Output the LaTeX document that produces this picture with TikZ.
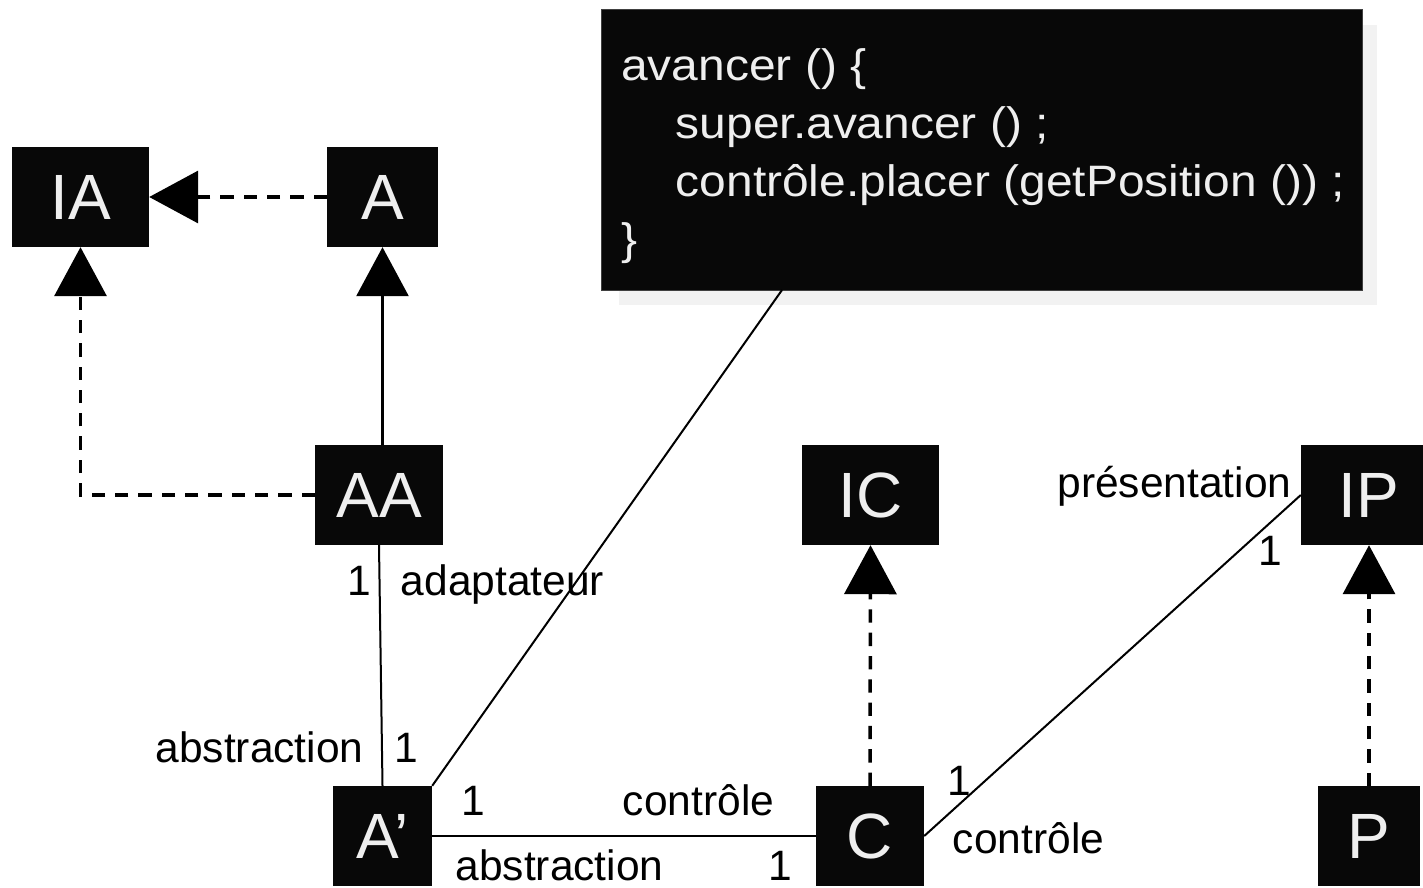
\documentclass[tikz,border=0pt]{standalone}
\usepackage{fontspec}
\setmainfont{Liberation Sans}
\newfontfamily\notefont[FakeStretch=1.09]{Liberation Sans}
\usetikzlibrary{arrows.meta}
\definecolor{boxfill}{HTML}{080808}
\definecolor{boxtext}{HTML}{EFEFEF}
\definecolor{shadowgray}{HTML}{F2F2F2}
\tikzset{
  cls/.style={rectangle, fill=boxfill, text=boxtext, inner sep=0pt,
    minimum height=100pt, font=\fontsize{64}{64}\selectfont},
  lbl/.style={anchor=base, inner sep=0pt, text depth=0pt, font=\fontsize{42.5}{42.5}\selectfont},
  codeline/.style={anchor=base west, inner sep=0pt, text=boxtext,
    font=\notefont\fontsize{44}{44}\selectfont},
  realize/.style={line width=3.5pt, dash pattern=on 13.3pt off 10pt,
    -{Triangle[length=49pt, width=52pt]}},
  inherit/.style={line width=2.8pt, -{Triangle[length=49pt, width=52pt]}},
  assoc/.style={line width=2pt},
}
\begin{document}
\begin{tikzpicture}[x=1pt, y=-1pt]
\useasboundingbox[fill=white] (0,0) rectangle (1423,887);

% note with shadow
\fill[shadowgray] (619,25) rectangle (1377,305);
\node[rectangle, fill=boxfill, draw=black!75, line width=0.8pt, inner sep=0pt,
  minimum width=761pt, minimum height=281pt] (note) at (981.5,149.5) {};
\node[codeline] (l1) at (621,80)  {avancer () \{};
\node[codeline] (l2) at (675.5,138) {super.avancer () ;};
\node[codeline] (l3) at (675.5,196) {contrôle.placer (getPosition ()) ;};
\node[codeline] (l4) at (621,254) {\}};
\coordinate (nb) at (782,290);

% classes
\node[cls, minimum width=137pt] (IA) at (80.5,197) {IA};
\node[cls, minimum width=111pt] (A)  at (382.5,197) {A};
\node[cls, minimum width=128pt] (AA) at (379,495) {AA};
\node[cls, minimum width=99pt]  (Ap) at (382.5,836) {A’};
\node[cls, minimum width=137pt] (IC) at (870.5,495) {IC};
\node[cls, minimum width=108pt] (C)  at (870,836) {C};
\node[cls, minimum width=136pt] (IP) at (1369,495) {IP};
\node[cls, minimum width=102pt] (P)  at (1369,836) {P};

% connectors
\draw[realize] (A.west) -- (IA.east);
\draw[realize] (AA.west) -| (IA.south);
\draw[inherit] (A.south |- AA.north) -- (A.south);
\draw[realize] (C.north) -- (IC.south);
\draw[realize] (P.north) -- (IP.south);
\draw[assoc] (AA.south) -- (Ap.north);
\draw[assoc] (Ap.east) -- (C.west);
\draw[assoc] (C.east) -- (IP.west);
\draw[assoc] (nb) -- (Ap.north east);

% labels
\node[lbl] (m1) at (359.5,595) {1};
\node[lbl] (r1) at (502.5,595) {adaptateur};
\node[lbl] (r2) at (259.5,762) {abstraction};
\node[lbl] (m2) at (406,762) {1};
\node[lbl] (m3) at (473,815) {1};
\node[lbl] (r3) at (698.5,815) {contrôle};
\node[lbl] (r4) at (559.5,880) {abstraction};
\node[lbl] (m4) at (780.5,880) {1};
\node[lbl] (m5) at (959,795) {1};
\node[lbl] (r5) at (1028.5,853) {contrôle};
\node[lbl] (r6) at (1174.5,497) {présentation};
\node[lbl] (m6) at (1270.5,565) {1};
\end{tikzpicture}
\end{document}
